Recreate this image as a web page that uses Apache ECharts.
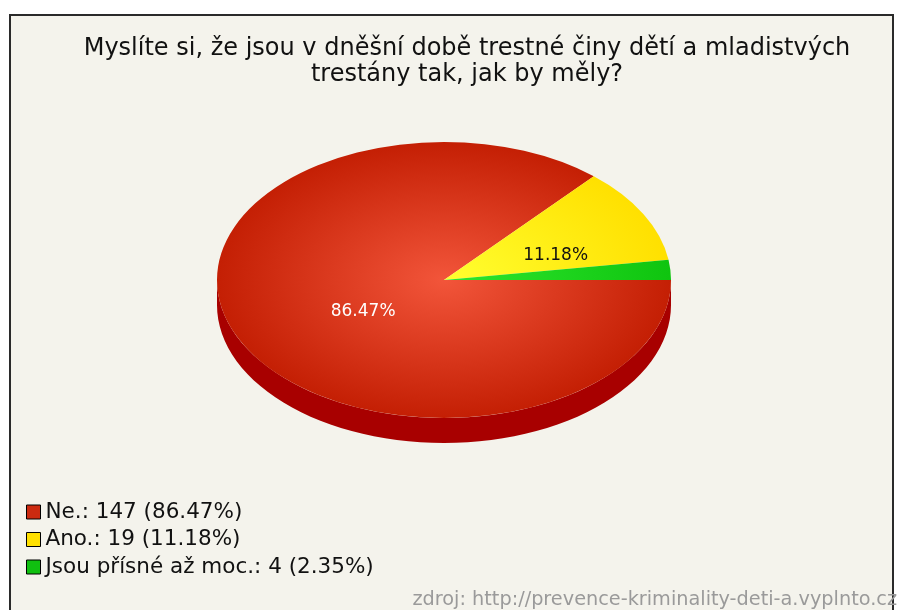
<!DOCTYPE html>
<html>
<head>
<meta charset="utf-8">
<script src="https://cdn.jsdelivr.net/npm/echarts@6/dist/echarts.min.js"></script>
<style>
  html, body { margin: 0; padding: 0; background: #fff; }
  #chart { width: 903px; height: 610px; }
</style>
</head>
<body>
<div id="chart"></div>
<script>
const categories = ['Ne.', 'Ano.', 'Jsou přísné až moc.']
const counts = [147, 19, 4]
const topColors = [['#f2553a', '#c41f04'], ['#ffff30', '#ffe000'], ['#2ee62e', '#0fc40f']]
const sideColors = ['#a80000', '#c8b000', '#0a9a0a']
const legendColors = ['#cc2a10', '#ffe000', '#10c010']
const labelColors = ['#ffffff', '#111111', '#111111']

const total = counts.reduce((a, b) => a + b, 0)
const pct = v => (v / total * 100).toFixed(2) + '%'

// pie geometry
const cx = 444, cy = 280, rx = 227, ry = 138, depth = 25

const el = document.getElementById('chart')
const chart = echarts.init(el)

function sliceSeries(i) {
  return {
    type: 'custom',
    name: categories[i],
    coordinateSystem: 'none',
    data: [counts[i]],
    z: 2,
    renderItem: function (params, api) {
      const before = counts.slice(0, i).reduce((a, b) => a + b, 0)
      const a0 = before / total * Math.PI * 2
      const a1 = (before + api.value(0)) / total * Math.PI * 2
      const children = []
      // side (front half only)
      const s0 = Math.max(a0, 0), s1 = Math.min(a1, Math.PI)
      if (s1 > s0) {
        const pts = []
        const n = 60
        for (let k = 0; k <= n; k++) {
          const t = s0 + (s1 - s0) * k / n
          pts.push([cx + rx * Math.cos(t), cy + ry * Math.sin(t)])
        }
        for (let k = n; k >= 0; k--) {
          const t = s0 + (s1 - s0) * k / n
          pts.push([cx + rx * Math.cos(t), cy + ry * Math.sin(t) + depth])
        }
        children.push({ type: 'polygon', shape: { points: pts }, style: { fill: sideColors[i] } })
      }
      // top face
      children.push({
        type: 'group',
        x: cx, y: cy, scaleY: ry / rx,
        children: [{
          type: 'sector',
          shape: { cx: 0, cy: 0, r: rx, r0: 0, startAngle: a0, endAngle: a1, clockwise: true },
          style: {
            fill: {
              type: 'radial', x: 0, y: 0, r: rx, global: true,
              colorStops: [{ offset: 0, color: topColors[i][0] }, { offset: 1, color: topColors[i][1] }]
            }
          }
        }]
      })
      // label
      if (api.value(0) / total > 0.05) {
        const mid = (a0 + a1) / 2
        const f = i === 0 ? 0.42 : 0.5
        children.push({
          type: 'text',
          x: cx + rx * f * Math.cos(mid) + (i === 0 ? 6 : 12),
          y: cy + ry * f * Math.sin(mid) + (i === 0 ? 8 : 9),
          style: {
            text: pct(api.value(0)), fill: labelColors[i],
            font: '17px "DejaVu Sans"', align: 'center', verticalAlign: 'middle'
          }
        })
      }
      return { type: 'group', children: children }
    }
  }
}

chart.setOption({
  backgroundColor: '#ffffff',
  animation: false,
  title: {
    text: 'Myslíte si, že jsou v dněšní době trestné činy dětí a mladistvých\ntrestány tak, jak by měly?',
    left: 462, top: 31, textAlign: 'center',
    textStyle: { fontFamily: 'DejaVu Sans', fontSize: 24, fontWeight: 'normal', color: '#111', lineHeight: 26, align: 'center' }
  },
  legend: {
    orient: 'vertical', left: 21, top: 496,
    itemWidth: 14, itemHeight: 14, itemGap: 5.5, icon: 'rect',
    itemStyle: { borderColor: '#000', borderWidth: 1 },
    data: categories.map((c, i) => ({ name: c, itemStyle: { color: legendColors[i] } })),
    formatter: name => {
      const i = categories.indexOf(name)
      return name + ': ' + counts[i] + ' (' + pct(counts[i]) + ')'
    },
    textStyle: { fontFamily: 'DejaVu Sans', fontSize: 21.5, lineHeight: 20, color: '#111' },
    selectedMode: false
  },
  graphic: [
    { type: 'rect', z: -10, shape: { x: 10, y: 15, width: 883, height: 610 },
      style: { fill: '#f4f3ec', stroke: '#2a2a2a', lineWidth: 2 } },
    { type: 'text', right: 6, top: 590,
      style: { text: 'zdroj: http://prevence-kriminality-deti-a.vyplnto.cz', fill: '#9a9a9a', font: '19.3px "DejaVu Sans"' } }
  ],
  series: categories.map((c, i) => sliceSeries(i))
})
</script>
</body>
</html>
